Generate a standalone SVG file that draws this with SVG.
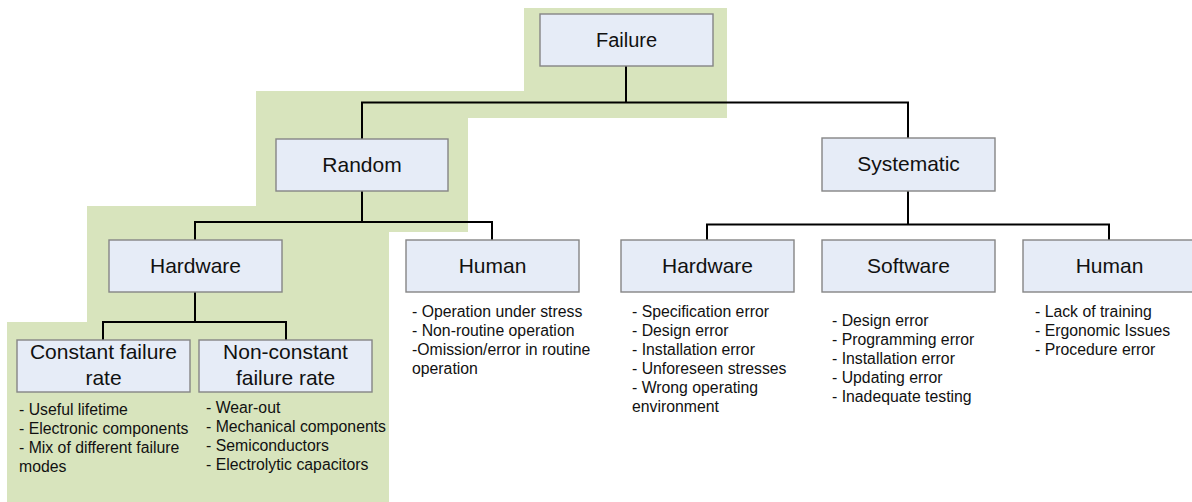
<svg xmlns="http://www.w3.org/2000/svg" width="1192" height="502" viewBox="0 0 1192 502">
  <style>
    .box { fill: #e6ecf7; stroke: #858585; stroke-width: 1.4; }
    .lbl { font-family: "Liberation Sans", Arial, sans-serif; font-size: 21px; fill: #111; text-anchor: middle; }
    .lst { font-family: "Liberation Sans", Arial, sans-serif; font-size: 15.8px; fill: #111; }
    .con { fill: none; stroke: #000; stroke-width: 2; }
  </style>
  <rect width="1192" height="502" fill="#ffffff"/>
  <polygon id="highlight" fill="#d8e4bd" points="524,8 727,8 727,118 468,118 468,232 389,232 389,502 7,502 7,322 87,322 87,206 256,206 256,91 524,91"/>

  <g id="connectors">
    <path class="con" d="M626,66 V102.5 M362,139 V102.5 H908 V139"/>
    <path class="con" d="M362,191 V222 M195,240 V222 H492 V240"/>
    <path class="con" d="M908,191 V224.5 M707,240 V224.5 H1109 V240"/>
    <path class="con" d="M195,292 V322 M103,340 V322 H286 V340"/>
  </g>

  <g id="failure">
    <rect class="box" x="540" y="14" width="173" height="52"/>
    <text class="lbl" x="626.5" y="47" style="font-size:20px">Failure</text>
  </g>
  <g id="random">
    <rect class="box" x="276" y="139" width="172" height="52"/>
    <text class="lbl" x="362" y="172">Random</text>
  </g>
  <g id="systematic">
    <rect class="box" x="822" y="138" width="173" height="53"/>
    <text class="lbl" x="908.5" y="171">Systematic</text>
  </g>
  <g id="hardware-random">
    <rect class="box" x="109" y="240" width="173" height="52"/>
    <text class="lbl" x="195.5" y="273">Hardware</text>
  </g>
  <g id="human-random">
    <rect class="box" x="406" y="240" width="173" height="52"/>
    <text class="lbl" x="492.5" y="273">Human</text>
    <text class="lst" x="412" y="317">- Operation under stress</text>
    <text class="lst" x="412" y="336">- Non-routine operation</text>
    <text class="lst" x="412" y="355">-Omission/error in routine</text>
    <text class="lst" x="412" y="374">operation</text>
  </g>
  <g id="hardware-systematic">
    <rect class="box" x="621" y="240" width="173" height="52"/>
    <text class="lbl" x="707.5" y="273">Hardware</text>
    <text class="lst" x="632" y="317">- Specification error</text>
    <text class="lst" x="632" y="336">- Design error</text>
    <text class="lst" x="632" y="355">- Installation error</text>
    <text class="lst" x="632" y="374">- Unforeseen stresses</text>
    <text class="lst" x="632" y="393">- Wrong operating</text>
    <text class="lst" x="632" y="412">environment</text>
  </g>
  <g id="software">
    <rect class="box" x="822" y="240" width="173" height="52"/>
    <text class="lbl" x="908.5" y="273">Software</text>
    <text class="lst" x="832" y="326">- Design error</text>
    <text class="lst" x="832" y="345">- Programming error</text>
    <text class="lst" x="832" y="364">- Installation error</text>
    <text class="lst" x="832" y="383">- Updating error</text>
    <text class="lst" x="832" y="402">- Inadequate testing</text>
  </g>
  <g id="human-systematic">
    <rect class="box" x="1023" y="240" width="173" height="52"/>
    <text class="lbl" x="1109.5" y="273">Human</text>
    <text class="lst" x="1035" y="317">- Lack of training</text>
    <text class="lst" x="1035" y="336">- Ergonomic Issues</text>
    <text class="lst" x="1035" y="355">- Procedure error</text>
  </g>
  <g id="constant">
    <rect class="box" x="17" y="340" width="173" height="52"/>
    <text class="lbl" x="103.5" y="359">Constant failure</text>
    <text class="lbl" x="103.5" y="385">rate</text>
    <text class="lst" x="19" y="415">- Useful lifetime</text>
    <text class="lst" x="19" y="434">- Electronic components</text>
    <text class="lst" x="19" y="453">- Mix of different failure</text>
    <text class="lst" x="19" y="472">modes</text>
  </g>
  <g id="non-constant">
    <rect class="box" x="199" y="340" width="173" height="52"/>
    <text class="lbl" x="285.5" y="359">Non-constant</text>
    <text class="lbl" x="285.5" y="385">failure rate</text>
    <text class="lst" x="206" y="413">- Wear-out</text>
    <text class="lst" x="206" y="432">- Mechanical components</text>
    <text class="lst" x="206" y="451">- Semiconductors</text>
    <text class="lst" x="206" y="470">- Electrolytic capacitors</text>
  </g>
</svg>
